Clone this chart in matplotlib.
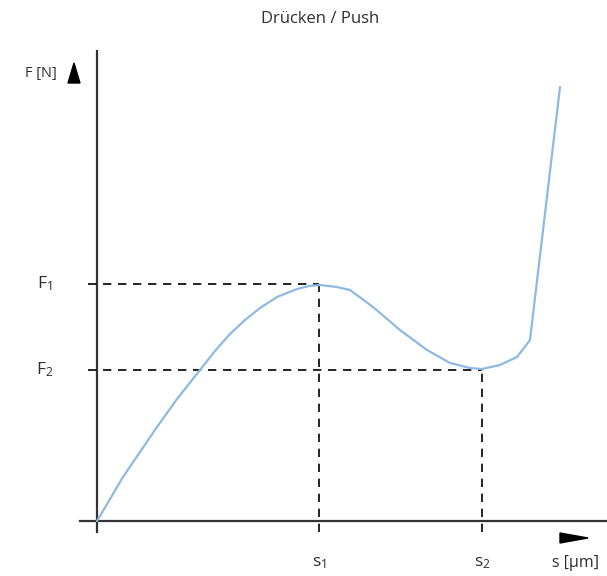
import matplotlib
matplotlib.use("Agg")
import matplotlib.pyplot as plt
from matplotlib.patches import Polygon

plt.rcParams['font.family'] = ['Open Sans', 'DejaVu Sans']
plt.rcParams['mathtext.default'] = 'regular'

# Curve data (s, F) in arbitrary units
s_vals = [0, 13, 26, 43, 60, 80, 103, 118, 133, 148, 163, 180, 200, 212, 223,
          240, 253, 276, 303, 330, 353, 373, 385, 403, 420, 433, 463]
f_vals = [0, 22, 44, 69, 94, 122, 151, 170, 187, 201, 213, 224, 232, 235, 236,
          234, 231, 214, 191, 171, 158, 153, 152, 156, 164, 181, 434]
s_marks = [222, 385]
f_marks = [237, 151]
s_labels = [r'$s_1$', r'$s_2$']
f_labels = [r'$F_1$', r'$F_2$']
title = 'Drücken / Push'
xlabel = 's [µm]'
ylabel = 'F [N]'

fig = plt.figure(figsize=(6.07, 5.76), dpi=100)
ax = fig.add_axes([0, 0, 1, 1])
ax.set_xlim(-97, 510)
ax.set_ylim(-55, 521)
ax.axis('off')

# axes lines
ax.plot([-97 + 80, 510], [0, 0], color='#333333', lw=1.6)
ax.plot([0, 0], [-11, 470], color='#333333', lw=1.6)

# arrow heads
ax.add_patch(Polygon([[-29, 438], [-23, 458], [-17, 438]], closed=True, color='black'))
ax.add_patch(Polygon([[463, -12], [491, -17], [463, -22]], closed=True, color='black'))

# dashed guides
for s, f in zip(s_marks, f_marks):
    ax.plot([-9, s], [f, f], color='black', lw=1.2, dashes=(5, 4))
    ax.plot([s, s], [-11, f], color='black', lw=1.2, dashes=(5, 4))

# curve
ax.plot(s_vals, f_vals, color='#8db9e2', lw=1.6, solid_capstyle='round',
        solid_joinstyle='round')

# labels
tc = '#2e2e2e'
for s, lab in zip(s_marks, s_labels):
    ax.text(s, -42, lab, ha='center', va='center', fontsize=12.5, color=tc)
for f, lab in zip(f_marks, f_labels):
    ax.text(-52, f, lab, ha='center', va='center', fontsize=12.5, color=tc)
ax.text(478, -42, xlabel, ha='center', va='center', fontsize=11.5, color=tc)
ax.text(-56, 448, ylabel, ha='center', va='center', fontsize=10.5, color=tc)
ax.text(223, 502, title, ha='center', va='center', fontsize=12, color=tc)

fig.savefig('out.png', dpi=100)
